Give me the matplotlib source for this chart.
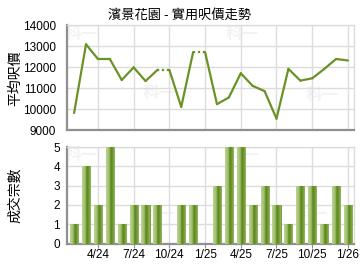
import matplotlib
matplotlib.use("Agg")
import matplotlib.pyplot as plt
import numpy as np

plt.rcParams['font.family'] = ['Noto Sans CJK TC', 'DejaVu Sans']

# monthly data, 2/24 .. 1/26
months = ['2/24', '3/24', '4/24', '5/24', '6/24', '7/24', '8/24', '9/24', '10/24', '11/24', '12/24',
          '1/25', '2/25', '3/25', '4/25', '5/25', '6/25', '7/25', '8/25', '9/25', '10/25', '11/25',
          '12/25', '1/26']
# None = no transaction that month (carried forward with a dotted line)
price = [9830, 13100, 12400, 12400, 11400, 12000, 11350, 11880, None, 10120, 12730,
         None, 10250, 10570, 11720, 11120, 10870, 9560, 11930, 11370, 11480, 11920,
         12400, 12330]
deals = [1, 4, 2, 5, 1, 2, 2, 2, 0, 2, 2, 0, 3, 5, 5, 2, 3, 2, 1, 3, 3, 1, 3, 2]
tick_labels = ['4/24', '7/24', '10/24', '1/25', '4/25', '7/25', '10/25', '1/26']

title = '濱景花園 - 實用呎價走勢'
ylab_top = '平均呎價'
ylab_bot = '成交宗數'

x = np.arange(len(months))
tick_pos = [months.index(m) for m in tick_labels]

line_c = '#6b9226'
grid_c = '#dcdcdc'
spine_c = '#909090'
num_font = ['Liberation Sans Narrow', 'Liberation Sans', 'DejaVu Sans']

fig = plt.figure(figsize=(3.6, 2.7), dpi=100)
ax1 = fig.add_axes([0.186, 0.517, 0.797, 0.389])
ax2 = fig.add_axes([0.186, 0.098, 0.797, 0.357])


def style(ax, ypad):
    ax.set_xlim(-0.6, len(months) - 0.5)
    ax.set_xticks(tick_pos)
    ax.grid(True, color=grid_c, linewidth=1.0)
    ax.set_axisbelow(True)
    for s in ['top', 'right']:
        ax.spines[s].set_color(grid_c)
        ax.spines[s].set_linewidth(1.0)
    for s in ['left', 'bottom']:
        ax.spines[s].set_color(spine_c)
        ax.spines[s].set_linewidth(1.6)
    ax.tick_params(axis='y', length=0, labelsize=8.5, pad=ypad)
    ax.tick_params(axis='x', length=3, color=spine_c, labelsize=8.5, pad=1)


# faint watermark
for ax, pts in [(ax1, [(0.05, 0.92), (0.61, 0.92), (0.32, 0.36), (0.89, 0.34)]),
                (ax2, [(0.05, 0.92), (0.61, 0.92), (0.32, 0.31), (0.85, 0.31)])]:
    for px, py in pts:
        ax.text(px, py, '科一', transform=ax.transAxes, fontsize=12, fontweight='bold',
                color='#f3f3f3', ha='center', va='center', zorder=0)

# price line: solid between real points, dotted when carried forward
vals = []
last = None
for p in price:
    last = p if p is not None else last
    vals.append(last)
for i in range(len(x) - 1):
    ls = (0, (1, 1.2)) if price[i + 1] is None else '-'
    ax1.plot(x[i:i + 2], vals[i:i + 2], color=line_c, linewidth=1.6, linestyle=ls,
             solid_capstyle='round', zorder=3)
ax1.set_ylim(9000, 14000)
ax1.set_yticks(range(9000, 14001, 1000))
style(ax1, 8)
ax1.set_xticklabels([])
ax1.tick_params(axis='x', length=0)
fig.text(0.5, 0.945, title, fontsize=9.5, ha='center', va='center')

# deals bars with a left-light / right-dark gradient
bars = ax2.bar(x, deals, width=0.68, color='#8fb055', edgecolor='#6f9430', linewidth=0.6, zorder=3)
grad = np.array([[0.0, 0.1, 0.35, 0.8, 1.0, 0.7, 0.45]])
cmap = matplotlib.colors.LinearSegmentedColormap.from_list('g', ['#b8d08c', '#5c891c'])
for b in bars:
    if b.get_height() <= 0:
        continue
    bx, by = b.get_x(), b.get_y()
    im = ax2.imshow(grad, cmap=cmap, aspect='auto', vmin=0, vmax=1,
                    extent=[bx, bx + b.get_width(), by, by + b.get_height()], zorder=3.5)
    im.set_clip_path(b)
ax2.set_ylim(0, 5)
ax2.set_yticks(range(0, 6))
style(ax2, 5)
ax2.set_xlim(-0.6, len(months) - 0.5)
ax2.set_xticklabels(tick_labels)

for ax in (ax1, ax2):
    for lbl in ax.get_yticklabels() + ax.get_xticklabels():
        lbl.set_fontfamily(num_font)

fig.text(0.042, 1 - 78 / 270, ylab_top, fontsize=10, rotation=90, ha='center', va='center')
fig.text(0.042, 1 - 195 / 270, ylab_bot, fontsize=10, rotation=90, ha='center', va='center')

fig.savefig('out.png', dpi=100)
